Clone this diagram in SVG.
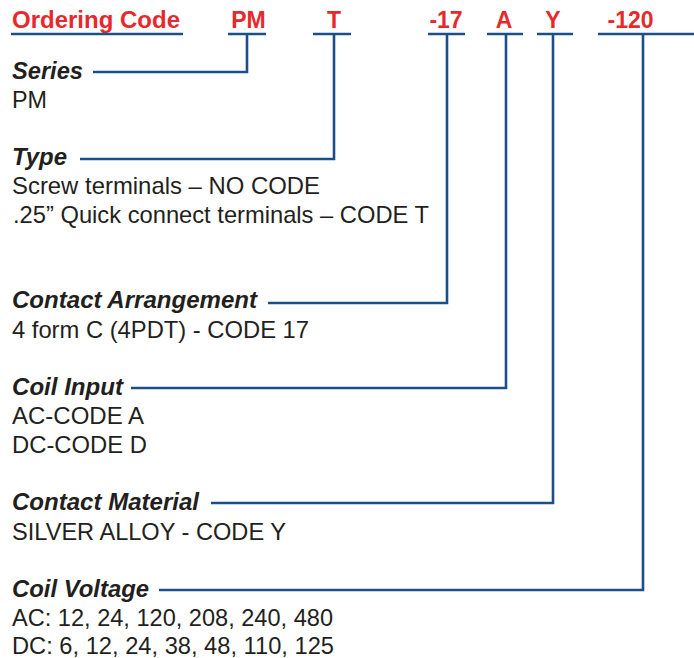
<svg xmlns="http://www.w3.org/2000/svg" width="694" height="658" viewBox="0 0 694 658">
<style>
.code{font-family:"Liberation Sans",Arial,sans-serif;font-weight:bold;font-size:23px;fill:#e8282b;text-anchor:middle}
.head{font-family:"Liberation Sans",Arial,sans-serif;font-weight:bold;font-style:italic;font-size:24px;fill:#231f20}
.body{font-family:"Liberation Sans",Arial,sans-serif;font-size:24px;fill:#231f20}
.ln{fill:none;stroke:#1b4f8a;stroke-width:2.6}
</style>
<rect width="694" height="658" fill="#ffffff"/>
<g id="header">
  <text class="code" x="12" y="28" style="text-anchor:start" textLength="168" lengthAdjust="spacingAndGlyphs">Ordering Code</text>
  <line class="ln" x1="11" y1="34" x2="183" y2="34"/>
</g>
<g id="code-pm">
  <text class="code" x="248.5" y="28">PM</text>
  <line class="ln" x1="228" y1="34" x2="266" y2="34"/>
</g>
<g id="code-t">
  <text class="code" x="334" y="28">T</text>
  <line class="ln" x1="313" y1="34" x2="351" y2="34"/>
</g>
<g id="code-17">
  <text class="code" x="446" y="28">-17</text>
  <line class="ln" x1="428" y1="34" x2="465" y2="34"/>
</g>
<g id="code-a">
  <text class="code" x="504" y="28">A</text>
  <line class="ln" x1="487" y1="34" x2="523" y2="34"/>
</g>
<g id="code-y">
  <text class="code" x="553" y="28">Y</text>
  <line class="ln" x1="537" y1="34" x2="573" y2="34"/>
</g>
<g id="code-120">
  <text class="code" x="630.5" y="28">-120</text>
  <line class="ln" x1="598" y1="34" x2="694" y2="34"/>
</g>

<g id="series">
  <text class="head" x="12" y="79" textLength="71" lengthAdjust="spacingAndGlyphs">Series</text>
  <text class="body" x="12" y="108" textLength="35" lengthAdjust="spacingAndGlyphs">PM</text>
</g>
<g id="type">
  <text class="head" x="12" y="165" textLength="55" lengthAdjust="spacingAndGlyphs">Type</text>
  <text class="body" x="12" y="194" textLength="308" lengthAdjust="spacingAndGlyphs">Screw terminals – NO CODE</text>
  <text class="body" x="13" y="223" textLength="416" lengthAdjust="spacingAndGlyphs">.25” Quick connect terminals – CODE T</text>
</g>
<g id="contact-arrangement">
  <text class="head" x="12" y="308" textLength="245" lengthAdjust="spacingAndGlyphs">Contact Arrangement</text>
  <text class="body" x="12" y="338" textLength="297" lengthAdjust="spacingAndGlyphs">4 form C (4PDT) - CODE 17</text>
</g>
<g id="coil-input">
  <text class="head" x="12" y="395" textLength="111" lengthAdjust="spacingAndGlyphs">Coil Input</text>
  <text class="body" x="12" y="424" textLength="132" lengthAdjust="spacingAndGlyphs">AC-CODE A</text>
  <text class="body" x="12" y="453" textLength="135" lengthAdjust="spacingAndGlyphs">DC-CODE D</text>
</g>
<g id="contact-material">
  <text class="head" x="12" y="510" textLength="187" lengthAdjust="spacingAndGlyphs">Contact Material</text>
  <text class="body" x="12" y="540" textLength="274" lengthAdjust="spacingAndGlyphs">SILVER ALLOY - CODE Y</text>
</g>
<g id="coil-voltage">
  <text class="head" x="12" y="597" textLength="137" lengthAdjust="spacingAndGlyphs">Coil Voltage</text>
  <text class="body" x="12" y="626" textLength="321" lengthAdjust="spacingAndGlyphs">AC: 12, 24, 120, 208, 240, 480</text>
  <text class="body" x="12" y="654" textLength="322" lengthAdjust="spacingAndGlyphs">DC: 6, 12, 24, 38, 48, 110, 125</text>
</g>

<g id="connectors">
  <path class="ln" d="M247,34 V72 H93"/>
  <path class="ln" d="M334,34 V159 H80"/>
  <path class="ln" d="M447,34 V303 H268"/>
  <path class="ln" d="M506,34 V388 H131"/>
  <path class="ln" d="M553,34 V503 H211"/>
  <path class="ln" d="M643,34 V590 H159"/>
</g>
</svg>
